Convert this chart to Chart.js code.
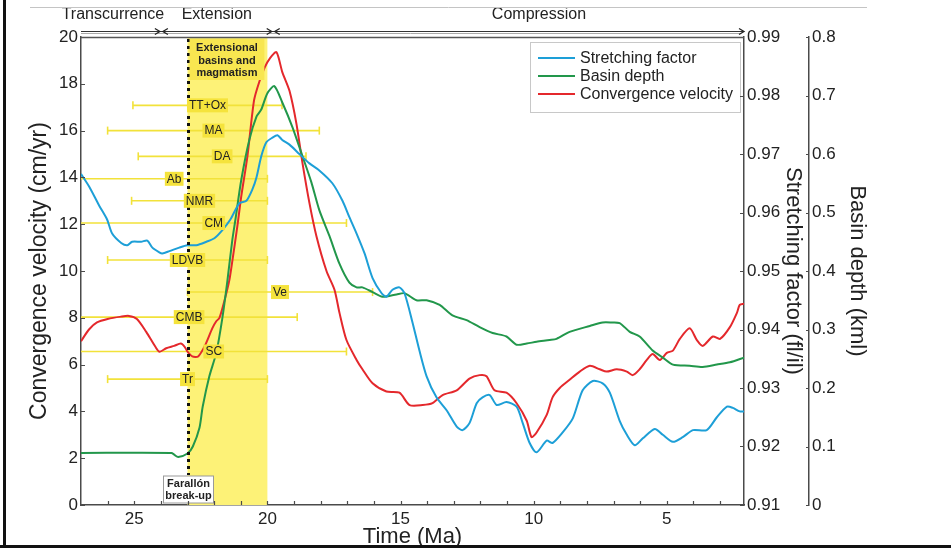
<!DOCTYPE html>
<html>
<head>
<meta charset="utf-8">
<script src="https://cdn.jsdelivr.net/npm/chart.js@4.4.1/dist/chart.umd.min.js"></script>
<style>
  html, body { margin: 0; padding: 0; background: #fff; }
  #wrap { width: 951px; height: 548px; position: relative; }
</style>
</head>
<body>
<div id="wrap"><canvas id="chart" width="951" height="548"></canvas></div>
<script>
// Convergence velocity (cm/yr) through time (Ma)
const velocityAge = [27.0, 26.7, 26.4, 26.0, 25.5, 25.2, 24.9, 24.55, 24.2, 24.05, 23.8, 23.5, 23.25, 23.1, 23.0,
  22.82, 22.6, 22.35, 22.07, 21.92, 21.8, 21.62, 21.43, 21.32, 21.13, 20.98, 20.75, 20.5, 20.3, 20.1, 19.9, 19.66,
  19.44, 19.17, 18.91, 18.68, 18.42, 18.16, 17.78, 17.48, 17.29, 17.03, 16.65, 16.43, 16.05, 15.53, 15.04, 14.66,
  14.17, 13.8, 13.42, 12.89, 12.41, 12.03, 11.77, 11.47, 11.02, 10.64, 10.26, 10.08, 9.89, 9.51, 9.29, 9.02, 8.65,
  8.27, 7.89, 7.52, 7.26, 6.88, 6.5, 6.28, 6.02, 5.75, 5.53, 5.26, 5.0, 4.77, 4.51, 4.14, 3.87, 3.65, 3.27, 3.0,
  2.63, 2.37, 2.26, 2.1];
const velocityCmYr = [7.0, 7.5, 7.8, 7.95, 8.05, 8.08, 7.95, 7.4, 6.75, 6.55, 6.7, 6.8, 6.9, 6.75, 6.55,
  6.35, 6.35, 6.8, 7.55, 7.85, 8.0, 8.7, 9.6, 10.4, 11.9, 13.2, 14.9, 17.3, 18.1, 18.7, 19.1, 19.35,
  18.5, 17.7, 16.3, 14.6, 12.9, 11.5, 10.0, 9.2, 8.2, 7.05, 6.2, 5.8, 5.2, 4.85, 4.8, 4.27,
  4.27, 4.35, 4.7, 4.9, 5.4, 5.55, 5.5, 4.9, 4.8, 4.35, 3.6, 2.9, 3.1, 3.85, 4.6, 5.0, 5.35,
  5.7, 5.95, 5.8, 5.7, 5.8, 5.7, 5.55, 5.8, 6.2, 6.45, 6.2, 6.5, 6.6, 7.1, 7.55, 7.05, 6.8, 7.2, 7.1,
  7.6, 8.2, 8.55, 8.6];

// Stretching factor (fl/il) through time (Ma)
const stretchAge = [27.0, 26.69, 26.32, 26.02, 25.83, 25.49, 25.26, 25.08, 24.74, 24.51, 24.32, 24.06, 23.95, 23.68,
  23.31, 23.01, 22.67, 22.29, 21.99, 21.69, 21.39, 21.05, 20.79, 20.56, 20.41, 20.23, 20.04, 19.81, 19.62, 19.44,
  19.17, 18.8, 18.42, 18.05, 17.56, 17.18, 16.92, 16.65, 16.35, 16.05, 15.71, 15.53, 15.3, 15.04, 14.85, 14.55,
  14.29, 14.02, 13.65, 13.27, 12.89, 12.67, 12.41, 12.14, 11.92, 11.65, 11.39, 11.02, 10.64, 10.41, 10.15, 9.89,
  9.51, 9.29, 8.91, 8.53, 8.16, 7.78, 7.41, 7.14, 6.77, 6.5, 6.2, 5.9, 5.45, 5.15, 4.77, 4.4, 4.02, 3.5, 3.12,
  2.74, 2.52, 2.26, 2.1];
const stretchFactor = [0.9666, 0.9644, 0.9612, 0.9588, 0.9564, 0.9548, 0.9544, 0.955, 0.955, 0.9552, 0.954, 0.9532,
  0.953, 0.9534, 0.954, 0.9544, 0.9544, 0.955, 0.9556, 0.957, 0.9588, 0.9616, 0.962, 0.964, 0.966, 0.9696, 0.972,
  0.9728, 0.9732, 0.9724, 0.9716, 0.970, 0.9684, 0.9672, 0.965, 0.962, 0.9592, 0.9564, 0.953, 0.9488, 0.9462,
  0.9456, 0.9468, 0.9472, 0.9462, 0.9412, 0.9364, 0.932, 0.9284, 0.9262, 0.9234, 0.9228, 0.924, 0.9274, 0.9284,
  0.9288, 0.9271, 0.9276, 0.9268, 0.924, 0.9206, 0.919, 0.921, 0.9206, 0.9224, 0.9248, 0.9296, 0.9312, 0.9308,
  0.9292, 0.9244, 0.922, 0.9202, 0.9214, 0.923, 0.922, 0.9208, 0.9216, 0.9228, 0.9228, 0.925, 0.9268, 0.9266,
  0.926, 0.926];

// Basin depth (km) through time (Ma)
const depthAge = [27.0, 23.6, 23.5, 23.35, 23.0, 22.8, 22.55, 22.43, 22.18, 21.92, 21.69, 21.5, 21.32, 21.2, 20.98,
  20.68, 20.41, 20.23, 20.0, 19.74, 19.44, 19.06, 18.68, 18.35, 18.05, 17.67, 17.29, 16.92, 16.65, 16.43, 16.05,
  15.68, 15.15, 14.85, 14.4, 14.02, 13.53, 13.05, 12.52, 12.03, 11.54, 11.02, 10.64, 10.26, 9.89, 9.4, 9.14, 8.65,
  7.89, 7.41, 7.07, 6.77, 6.39, 6.02, 5.53, 5.15, 4.77, 4.14, 3.65, 3.12, 2.63, 2.1];
const depthKm = [0.089, 0.089, 0.086, 0.082, 0.088, 0.100, 0.132, 0.168, 0.220, 0.260, 0.320, 0.384, 0.452, 0.488,
  0.556, 0.624, 0.664, 0.676, 0.704, 0.716, 0.688, 0.646, 0.596, 0.552, 0.504, 0.460, 0.412, 0.380, 0.372, 0.372,
  0.364, 0.356, 0.360, 0.362, 0.350, 0.350, 0.342, 0.324, 0.316, 0.304, 0.294, 0.288, 0.274, 0.276, 0.279, 0.282,
  0.284, 0.296, 0.306, 0.312, 0.312, 0.311, 0.296, 0.288, 0.264, 0.252, 0.240, 0.238, 0.236, 0.240, 0.244, 0.252];

// Age ranges (Ma) of the dated units, each on its own row of the velocity axis
const unitNames    = ['TT+Ox', 'MA', 'DA', 'Ab', 'NMR', 'CM', 'LDVB', 'Ve', 'CMB', 'SC', 'Tr'];
const unitOldest   = [25.05, 26.0, 24.85, 27.0, 25.1, 27.0, 26.0, 23.0, 27.0, 27.0, 26.0];
const unitYoungest = [19.45, 18.05, 18.55, 20.0, 20.0, 17.03, 20.0, 16.05, 18.88, 17.03, 20.0];
const unitRow      = [17.08, 16.0, 14.9, 13.94, 13.0, 12.05, 10.47, 9.1, 8.03, 6.56, 5.38];

// Tectonic phases along the top of the plot
const phaseNames  = ['Transcurrence', 'Extension', 'Compression'];
const phaseLimits = [24, 19.8];

// Axis ticks
const timeTicks      = [25, 20, 15, 10, 5];
const timeMinorTicks = [26, 25, 24, 23, 22, 21, 20, 19, 18, 17, 16, 15, 14, 13, 12, 11, 10, 9, 8, 7, 6, 5, 4, 3];
const velocityTicks  = [0, 2, 4, 6, 8, 10, 12, 14, 16, 18, 20];
const stretchTicks   = [0.91, 0.92, 0.93, 0.94, 0.95, 0.96, 0.97, 0.98, 0.99];
const depthTicks     = [0, 0.1, 0.2, 0.3, 0.4, 0.5, 0.6, 0.7, 0.8];

// Extensional-phase window and the Farallón break-up age
const extensionWindow = [23, 20];
const farallonAge = 23;

const FONT = "'Liberation Sans', Arial, Helvetica, sans-serif";
const INK = '#222';
const AXIS = '#4a4a4a';
const BAND = '#fdf277';
const UNIT_BAR = '#f2e23a';
const UNIT_BOX = '#f5e33c';

const zip = (xs, ys) => xs.map((x, i) => ({ x, y: ys[i] }));

const curveStyle = { borderWidth: 2, pointRadius: 0, pointHoverRadius: 0, fill: false, tension: 0.25, clip: 0 };

const datasets = [
  { label: 'Stretching factor', data: zip(stretchAge, stretchFactor), borderColor: '#1d9fd7', yAxisID: 'yStr', ...curveStyle },
  { label: 'Basin depth', data: zip(depthAge, depthKm), borderColor: '#22974b', yAxisID: 'yDep', ...curveStyle },
  { label: 'Convergence velocity', data: zip(velocityAge, velocityCmYr), borderColor: '#e4282c', yAxisID: 'yVel', ...curveStyle },
];

unitNames.forEach((name, i) => {
  datasets.push({
    label: name,
    unitBar: true,
    data: [{ x: unitOldest[i], y: unitRow[i] }, { x: unitYoungest[i], y: unitRow[i] }],
    yAxisID: 'yVel',
    borderColor: UNIT_BAR,
    borderWidth: 1.6,
    pointStyle: 'line',
    pointRotation: 90,
    pointBorderColor: UNIT_BAR,
    pointBorderWidth: 1.6,
    pointRadius: ctx => (ctx.raw && ctx.raw.x >= 27 ? 0 : 4),
    pointHoverRadius: 0,
    tension: 0,
    fill: false,
    clip: 0,
  });
});

function fixedTicks(values) {
  return scale => { scale.ticks = values.map(value => ({ value })); };
}

const tickFont = { family: FONT, size: 17 };
const titleFont = { family: FONT, size: 22 };

function chevron(ctx, x, y, dir) {
  ctx.beginPath();
  ctx.moveTo(x - 5 * dir, y - 3);
  ctx.lineTo(x, y);
  ctx.lineTo(x - 5 * dir, y + 3);
  ctx.stroke();
}

const decor = {
  id: 'decor',
  beforeDatasetsDraw(chart) {
    const { ctx, chartArea: a, scales } = chart;
    const X = v => scales.x.getPixelForValue(v);
    ctx.save();
    ctx.fillStyle = BAND;
    const x0 = X(extensionWindow[0]), x1 = X(extensionWindow[1]);
    ctx.fillRect(x0, a.top, x1 - x0, a.bottom - a.top);
    ctx.restore();
  },
  afterDatasetsDraw(chart) {
    const { ctx, chartArea: a, scales } = chart;
    const X = v => scales.x.getPixelForValue(v);
    const Y = v => scales.yVel.getPixelForValue(v);
    ctx.save();

    // Farallón break-up marker
    const xf = Math.round(X(farallonAge)) + 0.5;
    ctx.strokeStyle = '#111';
    ctx.lineWidth = 3;
    ctx.setLineDash([3, 4]);
    ctx.beginPath();
    ctx.moveTo(xf, a.top + 2);
    ctx.lineTo(xf, a.bottom - 30);
    ctx.stroke();
    ctx.setLineDash([]);

    // Unit name tags at the middle of each age range
    ctx.font = `12px ${FONT}`;
    ctx.textAlign = 'center';
    ctx.textBaseline = 'middle';
    unitNames.forEach((name, i) => {
      const cx = X((unitOldest[i] + unitYoungest[i]) / 2);
      const cy = Y(unitRow[i]);
      const w = ctx.measureText(name).width + 4;
      ctx.fillStyle = UNIT_BOX;
      ctx.fillRect(cx - w / 2, cy - 7, w, 14);
      ctx.fillStyle = INK;
      ctx.fillText(name, cx, cy + 0.5);
    });

    // Extensional window caption
    const bx0 = X(extensionWindow[0]) + 2, bx1 = X(extensionWindow[1]) - 3;
    ctx.fillStyle = '#f8e650';
    ctx.fillRect(bx0, a.top + 2, bx1 - bx0, 41);
    ctx.fillStyle = INK;
    ctx.font = `bold 11px ${FONT}`;
    const bc = (bx0 + bx1) / 2;
    ['Extensional', 'basins and', 'magmatism'].forEach((t, k) => ctx.fillText(t, bc, a.top + 11 + k * 12.5));

    // Farallón break-up caption
    ctx.fillStyle = '#fff';
    ctx.strokeStyle = '#9a9a9a';
    ctx.lineWidth = 1;
    ctx.fillRect(xf - 25, a.bottom - 29, 50, 27);
    ctx.strokeRect(xf - 25, a.bottom - 29, 50, 27);
    ctx.fillStyle = INK;
    ctx.fillText('Farallón', xf, a.bottom - 21);
    ctx.fillText('break-up', xf, a.bottom - 9);

    // Legend
    const lx = 530, ly = 42;
    ctx.fillStyle = '#fff';
    ctx.fillRect(lx, ly, 210, 70);
    ctx.strokeStyle = '#c8c8c8';
    ctx.strokeRect(lx + 0.5, ly + 0.5, 210, 70);
    ctx.font = `16px ${FONT}`;
    ctx.textAlign = 'left';
    chart.data.datasets.filter(d => !d.unitBar).forEach((d, k) => {
      const y = ly + 16 + k * 18;
      ctx.strokeStyle = d.borderColor;
      ctx.lineWidth = 2;
      ctx.beginPath();
      ctx.moveTo(lx + 8, y);
      ctx.lineTo(lx + 45, y);
      ctx.stroke();
      ctx.fillStyle = INK;
      ctx.fillText(d.label, lx + 50, y + 1);
    });
    ctx.restore();
  },
  afterDraw(chart) {
    const { ctx, chartArea: a, scales } = chart;
    const X = v => scales.x.getPixelForValue(v);
    ctx.save();
    ctx.strokeStyle = AXIS;
    ctx.lineWidth = 1.2;

    // Inward tick marks
    ctx.beginPath();
    timeMinorTicks.forEach(v => { const x = Math.round(X(v)) + 0.5; ctx.moveTo(x, a.bottom); ctx.lineTo(x, a.bottom - 4); });
    velocityTicks.forEach(v => { const y = Math.round(scales.yVel.getPixelForValue(v)) + 0.5; ctx.moveTo(a.left, y); ctx.lineTo(a.left + 4, y); });
    stretchTicks.forEach(v => { const y = Math.round(scales.yStr.getPixelForValue(v)) + 0.5; ctx.moveTo(a.right, y); ctx.lineTo(a.right - 4, y); });
    depthTicks.forEach(v => { const y = Math.round(scales.yDep.getPixelForValue(v)) + 0.5; const xd = scales.yDep.left; ctx.moveTo(xd, y); ctx.lineTo(xd - 3, y); });
    ctx.stroke();

    // Top frame of the plot
    ctx.lineWidth = 1.5;
    ctx.strokeStyle = '#555';
    ctx.beginPath();
    ctx.moveTo(a.left, a.top + 0.5);
    ctx.lineTo(a.right, a.top + 0.5);
    ctx.stroke();

    // Phase arrows
    const ya = a.top - 6;
    ctx.lineWidth = 1.2;
    ctx.strokeStyle = '#333';
    ctx.beginPath();
    ctx.moveTo(a.left, ya + 0.5);
    ctx.lineTo(a.right, ya + 0.5);
    ctx.stroke();
    ctx.strokeStyle = '#aaa';
    ctx.lineWidth = 1;
    ctx.beginPath();
    ctx.moveTo(a.left, ya + 2.5);
    ctx.lineTo(a.right - 4, ya + 2.5);
    ctx.stroke();
    ctx.strokeStyle = '#222';
    ctx.lineWidth = 1.3;
    phaseLimits.forEach(v => {
      const x = X(v);
      chevron(ctx, x - 1, ya + 0.5, 1);
      chevron(ctx, x + 2, ya + 0.5, -1);
    });
    chevron(ctx, a.right, ya + 0.5, 1);

    ctx.fillStyle = INK;
    ctx.font = `16px ${FONT}`;
    ctx.textAlign = 'center';
    ctx.textBaseline = 'middle';
    const phaseCentres = [25.8, 21.9, 9.8];
    phaseNames.forEach((t, i) => ctx.fillText(t, X(phaseCentres[i]), 15));

    // Page frame
    ctx.fillStyle = '#111';
    ctx.fillRect(3, 0, 3, chart.height);
    ctx.fillRect(0, chart.height - 3, chart.width, 3);
    ctx.strokeStyle = '#c4c4c4';
    ctx.lineWidth = 1;
    ctx.beginPath();
    ctx.moveTo(30, 7.5);
    ctx.lineTo(867, 7.5);
    ctx.stroke();
    ctx.restore();
  },
};

new Chart(document.getElementById('chart'), {
  type: 'line',
  data: { datasets },
  plugins: [decor],
  options: {
    responsive: false,
    devicePixelRatio: 1,
    animation: false,
    events: [],
    layout: { padding: { left: 20, right: 78, top: 37, bottom: 0 } },
    plugins: { legend: { display: false }, tooltip: { enabled: false } },
    scales: {
      x: {
        type: 'linear',
        reverse: true,
        min: 2.1,
        max: 27,
        afterBuildTicks: fixedTicks(timeTicks),
        afterFit: s => { s.height = 43; },
        grid: { display: false, drawTicks: false },
        border: { display: true, color: AXIS, width: 1.5 },
        ticks: { font: tickFont, color: INK, padding: 4, maxRotation: 0 },
        title: { display: true, text: 'Time (Ma)', font: { ...titleFont, lineHeight: 1 }, color: INK, padding: 0 },
      },
      yVel: {
        type: 'linear',
        position: 'left',
        min: 0,
        max: 20,
        afterBuildTicks: fixedTicks(velocityTicks),
        afterFit: s => { s.width = 61; },
        grid: { display: false, drawTicks: false },
        border: { display: true, color: AXIS, width: 1.5 },
        ticks: { font: tickFont, color: INK, padding: 3 },
        title: { display: true, text: 'Convergence velocity (cm/yr)', font: { family: FONT, size: 23 }, color: INK, padding: { top: 6, bottom: 0 } },
      },
      yStr: {
        type: 'linear',
        position: 'right',
        min: 0.91,
        max: 0.99,
        afterBuildTicks: fixedTicks(stretchTicks),
        afterFit: s => { s.width = 65; },
        grid: { display: false, drawTicks: false },
        border: { display: true, color: AXIS, width: 1.5 },
        ticks: { font: tickFont, color: INK, padding: 3, callback: v => Number(v).toFixed(2) },
        title: { display: true, text: 'Stretching factor (fl/il)', font: titleFont, color: INK, padding: { top: 3, bottom: 0 } },
      },
      yDep: {
        type: 'linear',
        position: 'right',
        min: 0,
        max: 0.8,
        afterBuildTicks: fixedTicks(depthTicks),
        afterFit: s => { s.width = 64; },
        grid: { display: false, drawTicks: false },
        border: { display: true, color: AXIS, width: 1.5 },
        ticks: { font: tickFont, color: INK, padding: 3, callback: v => (v === 0 ? '0' : Number(v).toFixed(1)) },
        title: { display: true, text: 'Basin depth (kml)', font: titleFont, color: INK, padding: { top: 3, bottom: 0 } },
      },
    },
  },
});
</script>
</body>
</html>
